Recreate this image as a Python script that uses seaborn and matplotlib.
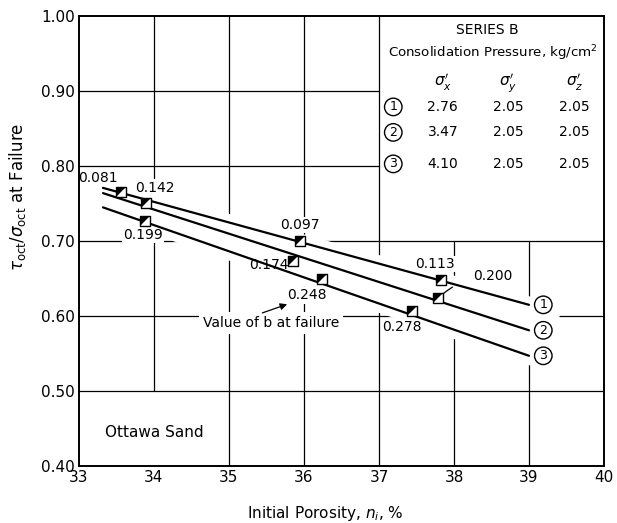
import numpy as np
import pandas as pd
import seaborn as sns
import matplotlib.pyplot as plt

# values (Series B, Ottawa sand)
series = ["1", "2", "3"]

# fitted straight lines, end points
line_x = [33.32, 39.0]
line1_y = [0.771, 0.615]
line2_y = [0.764, 0.581]
line3_y = [0.745, 0.547]

# test results and the value of b at failure
pt_series = ["1", "1", "1", "2", "2", "2", "3", "3", "3"]
pt_x = [33.56, 35.95, 37.82, 33.89, 35.85, 37.79, 33.88, 36.24, 37.44]
pt_y = [0.765, 0.700, 0.648, 0.751, 0.674, 0.624, 0.727, 0.649, 0.607]
b_values = ["0.081", "0.097", "0.113", "0.142", "0.174", "0.200", "0.199", "0.248", "0.278"]

# consolidation pressures, kg/cm2
sig_x = ["2.76", "3.47", "4.10"]
sig_y = ["2.05", "2.05", "2.05"]
sig_z = ["2.05", "2.05", "2.05"]

x_ticks = [33, 34, 35, 36, 37, 38, 39, 40]
y_ticks = [0.40, 0.50, 0.60, 0.70, 0.80, 0.90, 1.00]

sns.set_theme(style="white")
plt.rcParams["font.family"] = ["DejaVu Sans"]
plt.rcParams["mathtext.fontset"] = "dejavusans"
plt.rcParams["text.color"] = "black"

fig = plt.figure(figsize=(6.17, 5.23), dpi=100)
ax = fig.add_axes([0.128, 0.109, 0.851, 0.860])

lines = pd.DataFrame({
    "series": np.repeat(series, 2),
    "x": line_x * 3,
    "y": line1_y + line2_y + line3_y,
})
pts = pd.DataFrame({"series": pt_series, "x": pt_x, "y": pt_y, "b": b_values})

# grid (drawn by hand, the original leaves gaps)
def yf(v):
    return (v - 0.4) / 0.6

gk = dict(color="black", lw=0.9, zorder=1)
ax.axvline(34, ymin=yf(0.5), **gk)
for x in [35, 36, 37]:
    ax.axvline(x, **gk)
for x in [38, 39]:
    ax.axvline(x, ymax=yf(0.70), **gk)
for y in [0.9, 0.8]:
    ax.axhline(y, xmax=(37 - 33) / 7, **gk)
for y in [0.7, 0.6, 0.5]:
    ax.axhline(y, **gk)

# white band behind the lines so the grid breaks there
bx = np.array([33.25, 39.4])
top = np.polyval(np.polyfit(line_x, line1_y, 1), bx) + 0.012
bot = np.polyval(np.polyfit(line_x, line3_y, 1), bx) - 0.012
ax.fill_between(bx, bot, top, color="white", lw=0, zorder=2)

sns.lineplot(data=lines, x="x", y="y", units="series", estimator=None,
             color="black", lw=1.6, ax=ax, zorder=4)
sns.scatterplot(data=pts, x="x", y="y", marker="s", s=48, color="white",
                edgecolor="black", linewidth=1.0, ax=ax, zorder=5)
sns.scatterplot(data=pts, x="x", y="y", marker=[(-1, -1), (-1, 1), (1, 1)], s=48,
                color="black", linewidth=0, ax=ax, zorder=6)

# b labels, offsets in pixels
offs = [(-23, 14), (0, 16), (-6, 16), (9, 15), (-4, -4), (55, 22), (-2, -14), (-15, -16), (-10, -16)]
wb = dict(boxstyle="square,pad=0.1", fc="white", ec="none")
for (_, r), (dx, dy) in zip(pts.iterrows(), offs):
    if r["b"] == "0.200":
        ax.annotate(r["b"], (r["x"], r["y"]), xytext=(dx, dy), textcoords="offset pixels",
                    ha="center", va="center", fontsize=10, zorder=7,
                    arrowprops=dict(arrowstyle="-", lw=0.9, color="black",
                                    shrinkA=14, shrinkB=5,
                                    connectionstyle="arc3,rad=0.2"))
    else:
        ha = "right" if r["b"] == "0.174" else "center"
        ax.annotate(r["b"], (r["x"], r["y"]), xytext=(dx, dy), textcoords="offset pixels",
                    ha=ha, va="center", fontsize=10, zorder=3, bbox=wb)

# circled line numbers at the line ends
ends = [line1_y[1], line2_y[1], line3_y[1]]
for s, y in zip(series, ends):
    ax.text(line_x[1] + 0.19, y, s, ha="center", va="center", fontsize=9, zorder=7,
            bbox=dict(boxstyle="circle,pad=0.18", fc="white", ec="black", lw=1.0))

ax.text(35.56, 0.591, "Value of b at failure", ha="center", va="center",
        fontsize=10, zorder=3, bbox=dict(boxstyle="square,pad=0.3", fc="white", ec="none"))
ax.annotate("", xy=(35.81, 0.617), xytext=(35.41, 0.603),
            arrowprops=dict(arrowstyle="-|>", lw=0.9, color="black", mutation_scale=10),
            zorder=7)
ax.text(34.0, 0.445, "Ottawa Sand", ha="center", va="center", fontsize=11)

# table in the upper right
ax.text(38.44, 0.981, "SERIES B", ha="center", va="center", fontsize=10)
ax.text(38.52, 0.951, "Consolidation Pressure, kg/cm$^2$", ha="center", va="center", fontsize=9.6)
cols = [37.85, 38.72, 39.61]
for c, h in zip(cols, [r"$\sigma_x'$", r"$\sigma_y'$", r"$\sigma_z'$"]):
    ax.text(c, 0.912, h, ha="center", va="center", fontsize=11)
rows = [0.879, 0.845, 0.803]
for s, y, a, b, c in zip(series, rows, sig_x, sig_y, sig_z):
    ax.text(37.19, y, s, ha="center", va="center", fontsize=9,
            bbox=dict(boxstyle="circle,pad=0.18", fc="white", ec="black", lw=1.0))
    for cx, v in zip(cols, [a, b, c]):
        ax.text(cx, y, v, ha="center", va="center", fontsize=10)

ax.set_xlim(33, 40)
ax.set_ylim(0.4, 1.0)
ax.set_xticks(x_ticks)
ax.set_xticklabels([str(v) for v in x_ticks])
ax.set_yticks(y_ticks)
ax.set_yticklabels([f"{v:.2f}" for v in y_ticks])
ax.tick_params(length=0, labelsize=11, pad=3, colors="black")
for sp in ax.spines.values():
    sp.set_color("black")
    sp.set_linewidth(1.4)
    sp.set_zorder(8)

ax.set_xlabel("Initial Porosity, $n_i$, %", fontsize=11, color="black")
ax.set_ylabel(r"$\tau_{\rm oct}/\sigma_{\rm oct}$ at Failure", fontsize=12, color="black")
ax.xaxis.set_label_coords(0.469, -0.085)
ax.yaxis.set_label_coords(-0.097, 0.598)

fig.savefig("out.png", dpi=100)
